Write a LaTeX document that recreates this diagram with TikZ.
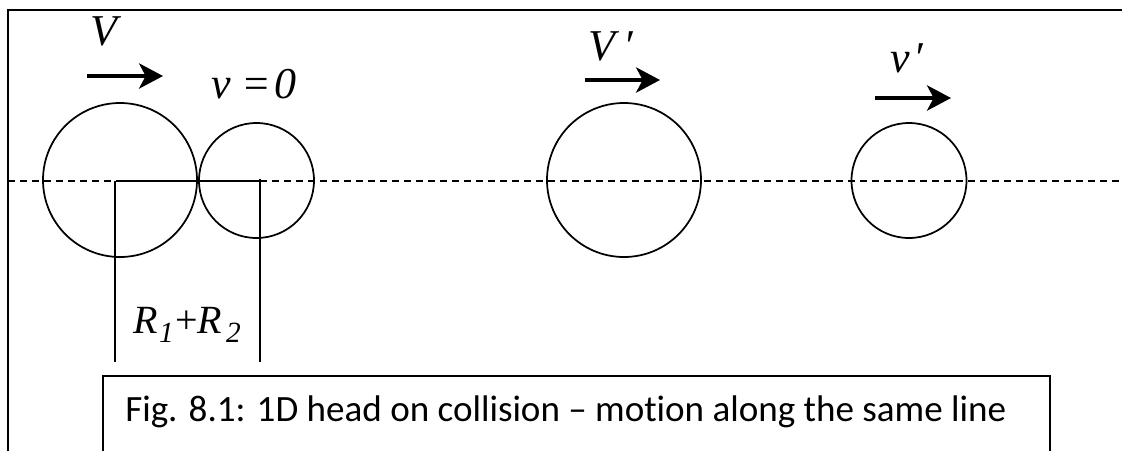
\documentclass[tikz,border=0pt]{standalone}
\usepackage{fontspec}
\setmainfont{Liberation Serif}
\newfontfamily\capfont[Ligatures={TeX,NoCommon}]{Carlito}
\usepackage{tikz}
\usetikzlibrary{arrows.meta}

\newcommand{\lowsub}[1]{\raisebox{-7pt}{\fontsize{22}{22}\selectfont\itshape #1}}

\begin{document}
\begin{tikzpicture}[
  x=0.75pt, y=-0.75pt,
  ball/.style={draw, circle, line width=1.3pt, inner sep=0pt},
  bigball/.style={ball, minimum size=115.5pt},
  smallball/.style={ball, minimum size=86.25pt},
  axis/.style={line width=1.2pt, dash pattern=on 5.5pt off 3.5pt},
  frame/.style={line width=1.6pt},
  thinline/.style={line width=1.3pt},
  arrow/.style={-{Stealth[length=18pt, width=19pt, inset=5pt]}, line width=2.4pt},
  lbl/.style={font=\fontsize{33}{38}\selectfont\itshape, inner sep=0pt},
  caption/.style={font=\capfont\fontsize{27.8}{34}\selectfont, inner sep=0pt}
]
\useasboundingbox (0,0) rectangle (1122,451);

% frame and caption box
\draw[frame] (8,451) |- (1122,10);
\draw[frame] (103,451) |- (1050,376) -- (1050,451);
\node[caption, anchor=base west] (caption) at (125,421) {Fig. 8.1: 1D head on collision – motion along the same line};

% line of motion
\coordinate (axisL) at (8,181);
\coordinate (axisR) at (1122,181);
\draw[axis] (axisL) -- (axisR);

% before the collision
\node[bigball] (ballA) at (120,180) {};
\node[smallball] (ballB) at (256.5,180.5) {};
\coordinate (centerA) at (121,181);
\coordinate (centerB) at (263,181);
\draw[thinline] (centerA) -- (centerB);

\coordinate (dimAtop) at (115,181);
\coordinate (dimAbot) at (115,362);
\coordinate (dimBtop) at (260,179);
\coordinate (dimBbot) at (260,362);
\draw[thinline] (dimAtop) -- (dimAbot);
\draw[thinline] (dimBtop) -- (dimBbot);
\node[inner sep=0pt, anchor=base west, font=\fontsize{30}{34}\selectfont] (dist) at (133,333)
  {\textit{R}\kern1pt\lowsub{1}\kern1pt+\textit{R}\kern3pt\lowsub{2}};

\coordinate (arrowAs) at (87,76);
\coordinate (arrowAe) at (163,76);
\draw[arrow] (arrowAs) -- (arrowAe);
\node[lbl, anchor=base] (labelV) at (104,45) {V};
\node[lbl, anchor=base west] (labelv) at (211,98) {v =\kern2pt0};

% after the collision
\node[bigball] (ballAafter) at (624,180) {};
\node[smallball] (ballBafter) at (909,180.5) {};

\coordinate (arrowBs) at (585,80);
\coordinate (arrowBe) at (660,80);
\draw[arrow] (arrowBs) -- (arrowBe);
\node[lbl, anchor=base west] (labelVp) at (588,60) {V\kern6pt′};

\coordinate (arrowCs) at (875,98);
\coordinate (arrowCe) at (951,98);
\draw[arrow] (arrowCs) -- (arrowCe);
\node[lbl, anchor=base west] (labelvp) at (890,72) {v\kern3pt′};
\end{tikzpicture}
\end{document}
